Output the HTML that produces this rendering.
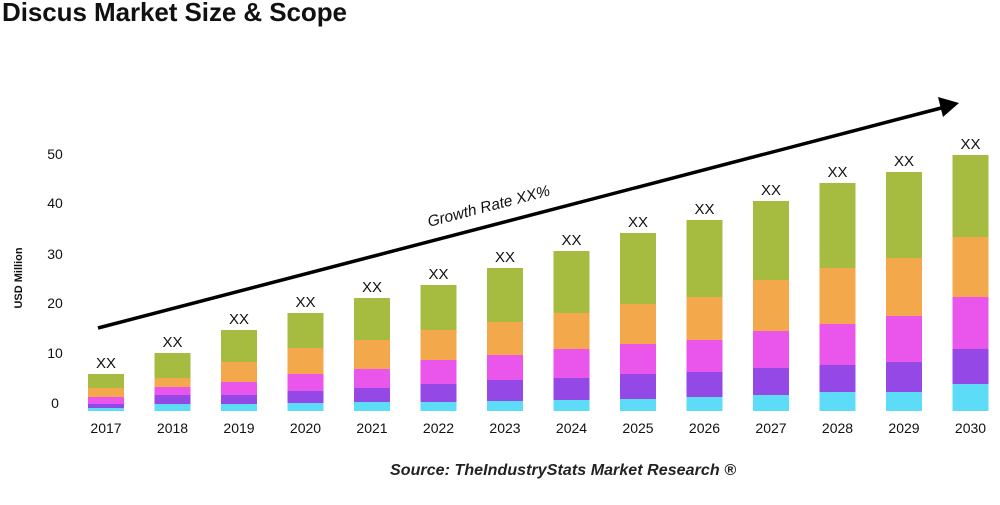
<!DOCTYPE html><html><head><style>body{margin:0;background:#fff;width:1000px;height:500px;overflow:hidden;font-family:"Liberation Sans",sans-serif}</style></head><body>
<svg width="1000" height="500" xmlns="http://www.w3.org/2000/svg" font-family="Liberation Sans, sans-serif">
<text x="2" y="21" font-size="26" font-weight="bold" fill="#111" textLength="345">Discus Market Size &amp; Scope</text>
<g font-size="14" fill="#111" text-anchor="middle">
<text x="55" y="159">50</text><text x="55" y="208">40</text><text x="55" y="259">30</text><text x="55" y="308">20</text><text x="55" y="358">10</text><text x="55" y="408">0</text>
</g>
<text transform="translate(22,278) rotate(-90)" font-size="11" font-weight="bold" text-anchor="middle" fill="#111">USD Million</text>
<g id="bars"></g>
<line x1="98" y1="328" x2="945" y2="107" stroke="#000" stroke-width="3.5"/>
<polygon points="959,103 938,97 943,117" fill="#000"/>
<text transform="translate(490,211) rotate(-14.6)" font-size="15.5" font-style="italic" text-anchor="middle" fill="#111">Growth Rate XX%</text>
<text x="563" y="475" font-size="16" font-weight="bold" font-style="italic" text-anchor="middle" fill="#222" textLength="346">Source: TheIndustryStats Market Research ®</text>
</svg>
<script>
var d=[[374,388,397,404,408],[353,378,387,395,404],[330,362,382,395,404],[313,348,374,391,403],[298,340,369,388,402],[285,330,360,384,402],[268,322,355,380,401],[251,313,349,378,400],[233,304,344,374,399],[220,297,340,372,397],[201,280,331,368,395],[183,268,324,365,392],[172,258,316,362,392],[155,237,297,349,384]];
var c=["#a5bc40","#f4a84c","#ea55ec","#9448e6","#5cdcf7"];var g=document.getElementById("bars"),s="";
d.forEach(function(b,i){var x=88+i*66.5;var ys=b.concat([411]);for(var k=0;k<5;k++){s+='<rect x="'+x+'" y="'+ys[k]+'" width="36" height="'+(ys[k+1]-ys[k])+'" fill="'+c[k]+'"/>';}
s+='<text x="'+(x+18)+'" y="'+(b[0]-6)+'" font-size="15" text-anchor="middle" fill="#111">XX</text>';
s+='<text x="'+(x+18)+'" y="433" font-size="14" text-anchor="middle" fill="#111">'+(2017+i)+'</text>';});
g.innerHTML=s;
</script>
</body></html>
